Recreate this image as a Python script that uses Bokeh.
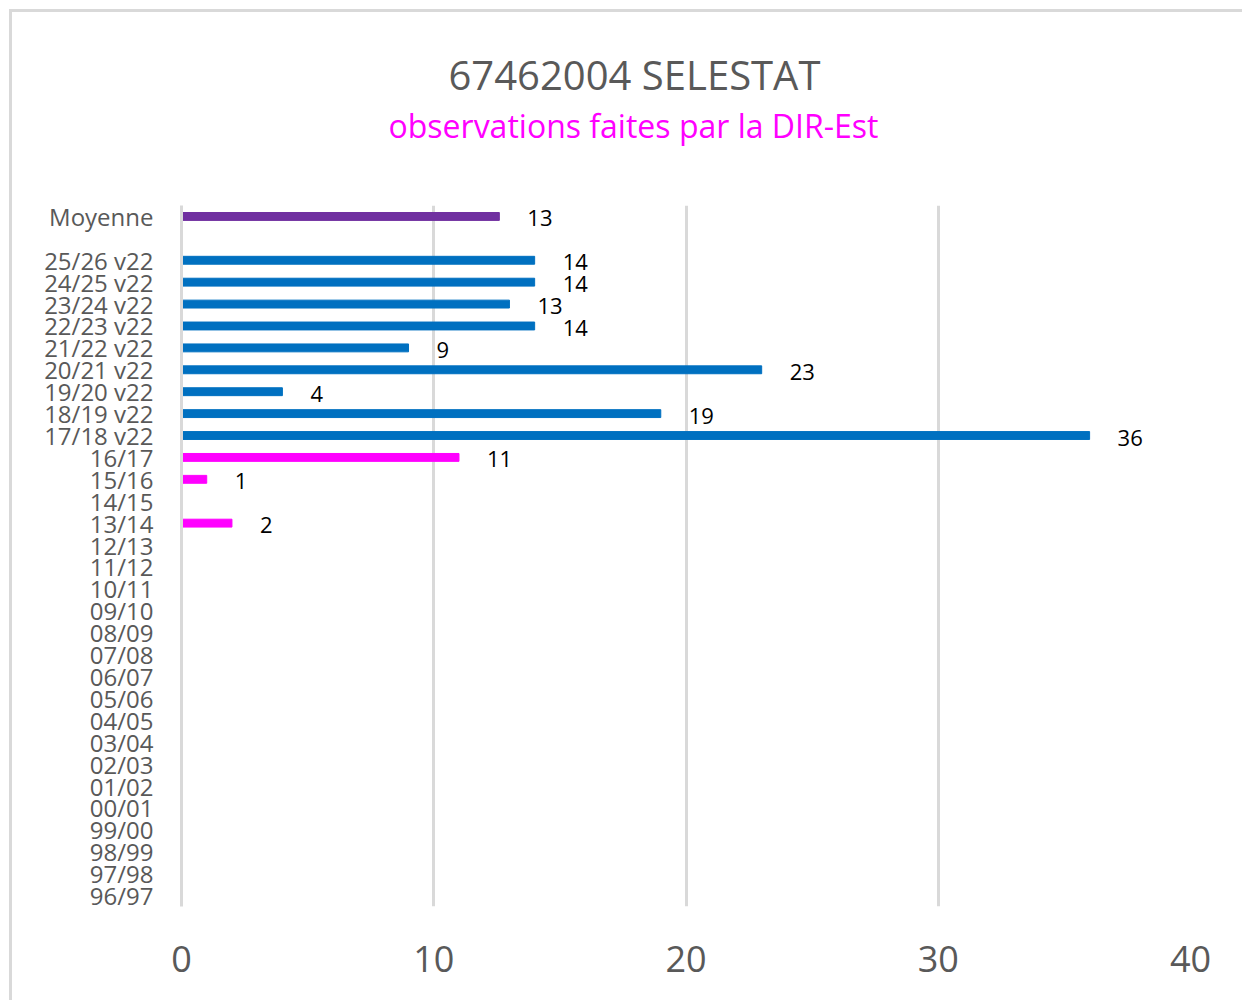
from bokeh.plotting import figure
from bokeh.models import FactorRange, Range1d, FixedTicker, Title, ColumnDataSource
from bokeh.core.properties import value
from bokeh.embed import file_html
from bokeh.resources import INLINE

# ---- data ----
categories = ["96/97", "97/98", "98/99", "99/00", "00/01", "01/02", "02/03",
              "03/04", "04/05", "05/06", "06/07", "07/08", "08/09", "09/10",
              "10/11", "11/12", "12/13", "13/14", "14/15", "15/16", "16/17",
              "17/18 v22", "18/19 v22", "19/20 v22", "20/21 v22", "21/22 v22",
              "22/23 v22", "23/24 v22", "24/25 v22", "25/26 v22", " ", "Moyenne"]
hist_cats = ["13/14", "15/16", "16/17"]
hist_vals = [2, 1, 11]
v22_cats = ["17/18 v22", "18/19 v22", "19/20 v22", "20/21 v22", "21/22 v22",
            "22/23 v22", "23/24 v22", "24/25 v22", "25/26 v22"]
v22_vals = [36, 19, 4, 23, 9, 14, 13, 14, 14]
mean_cats = ["Moyenne"]
mean_vals = [12.6]
x_ticks = [0, 10, 20, 30, 40]
title_text = "67462004 SELESTAT"
subtitle_text = "observations faites par la DIR-Est"

FONT = "Open Sans"
OFF = 12                      # page offset of the canvas (margin + border)
W, H = 1233, 991
FL, FT, FR, FB = 181 - OFF, 205 - OFF, 1190 - OFF, 906 - OFF

p = figure(width=W, height=H,
           y_range=FactorRange(factors=categories),
           x_range=Range1d(0, 40),
           output_backend="svg", toolbar_location=None,
           min_border_left=FL, min_border_right=W - FR,
           min_border_top=FT, min_border_bottom=H - FB)
p.styles = {"margin-left": "9px", "margin-top": "9px",
            "border-left": "3px solid #d9d9d9", "border-top": "3px solid #d9d9d9"}
p.outline_line_color = None
p.background_fill_color = "white"
p.border_fill_color = "white"

def bars(cats, vals, color):
    src = ColumnDataSource(dict(y=cats, right=vals,
                                lab=[str(int(round(v))) for v in vals]))
    p.hbar(y="y", left=0, right="right", height=0.36, color=color, source=src)
    p.text(x="right", y="y", text="lab", source=src, x_offset=28, y_offset=2,
           text_baseline="middle", text_align="left",
           text_font=value(FONT), text_font_size="22px", text_color="black")

bars(hist_cats, hist_vals, "#FF00FF")
bars(v22_cats, v22_vals, "#0070C0")
bars(mean_cats, mean_vals, "#7030A0")

# axes
p.xaxis.ticker = FixedTicker(ticks=x_ticks)
p.xaxis.axis_line_color = None
p.xaxis.major_tick_line_color = None
p.xaxis.minor_tick_line_color = None
p.xaxis.major_label_text_font = FONT
p.xaxis.major_label_text_font_size = "36px"
p.xaxis.major_label_text_color = "#595959"
p.xaxis.major_label_standoff = 33

p.yaxis.axis_line_color = "#d9d9d9"
p.yaxis.axis_line_width = 3
p.yaxis.major_tick_line_color = None
p.yaxis.minor_tick_line_color = None
p.yaxis.major_label_text_font = FONT
p.yaxis.major_label_text_font_size = "24px"
p.yaxis.major_label_text_color = "#595959"
p.yaxis.major_label_standoff = 22

p.xgrid.grid_line_color = "#d9d9d9"
p.xgrid.grid_line_width = 3
p.ygrid.grid_line_color = None

# titles: spacer closest to the frame, then subtitle, then main title
p.add_layout(Title(text=" ", standoff=30, text_font=FONT,
                   text_font_size="20px"), "above")
p.add_layout(Title(text=subtitle_text, align="left", offset=388 - 181,
                   standoff=0, text_font=FONT, text_font_size="32px",
                   text_font_style="normal", text_color="#FF00FF"), "above")
p.add_layout(Title(text=title_text, align="left", offset=448 - 181,
                   standoff=0, text_font=FONT, text_font_size="40px",
                   text_font_style="normal", text_color="#595959"), "above")

open("out.html", "w").write(file_html(p, INLINE))
